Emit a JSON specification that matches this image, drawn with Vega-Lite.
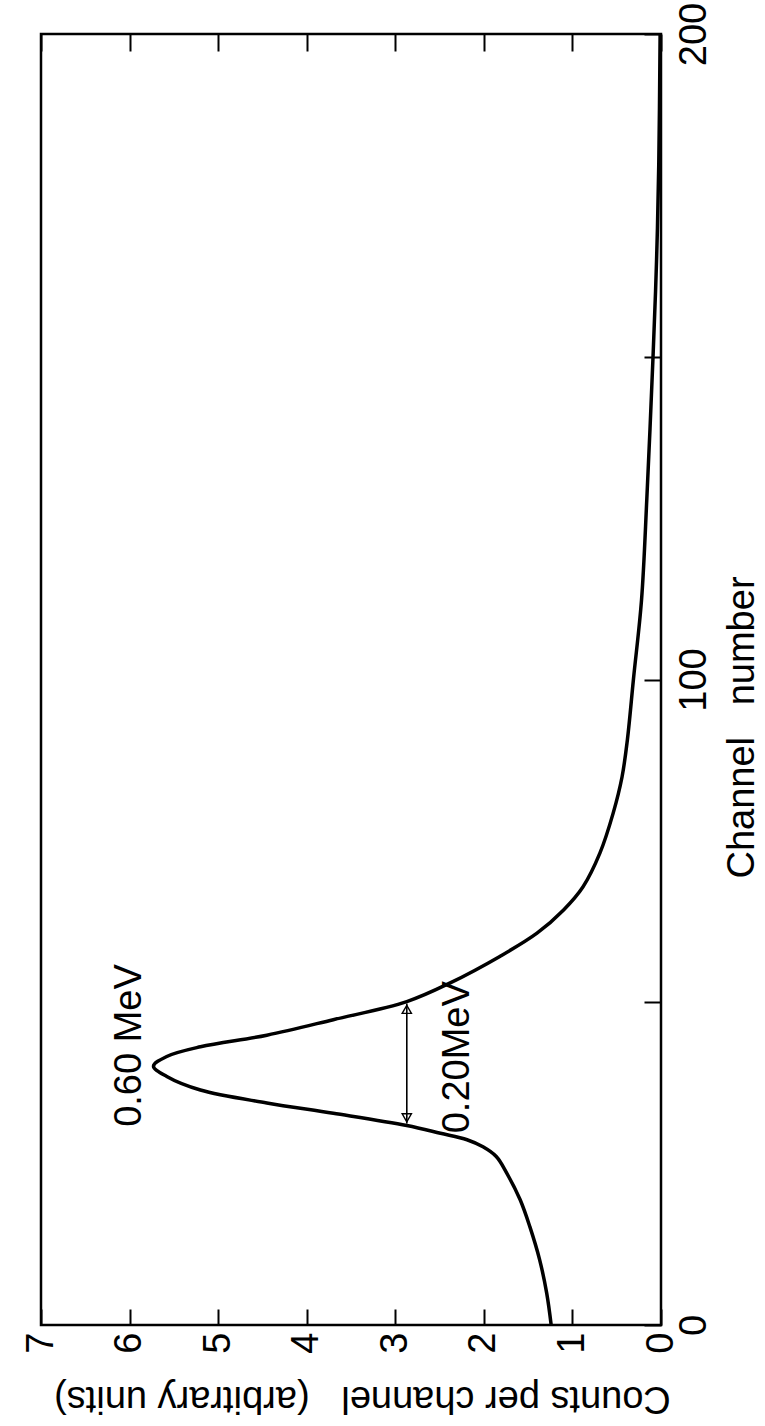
{
  "$schema": "https://vega.github.io/schema/vega-lite/v6.json",
  "width": 620,
  "height": 1291,
  "autosize": "none",
  "padding": {"left": 41, "top": 34, "right": 104, "bottom": 101},
  "background": "white",
  "config": {
    "view": {"stroke": "black", "strokeWidth": 2.5},
    "font": "Liberation Sans",
    "axis": {"grid": false, "domain": false, "tickColor": "black", "tickWidth": 2, "labelColor": "black", "titleColor": "black", "titleFontWeight": "normal", "labelFont": "Liberation Sans", "titleFont": "Liberation Sans"}
  },
  "datasets": {
    "curve": [
      {"channel": 0, "counts": 1.24},
      {"channel": 4.9, "counts": 1.29},
      {"channel": 10.1, "counts": 1.37},
      {"channel": 15.2, "counts": 1.48},
      {"channel": 19.4, "counts": 1.59},
      {"channel": 23.5, "counts": 1.74},
      {"channel": 26.1, "counts": 1.86},
      {"channel": 27.6, "counts": 2.01},
      {"channel": 28.7, "counts": 2.19},
      {"channel": 29.7, "counts": 2.49},
      {"channel": 30.9, "counts": 2.87},
      {"channel": 32.8, "counts": 3.70},
      {"channel": 34.4, "counts": 4.45},
      {"channel": 36.4, "counts": 5.20},
      {"channel": 38.5, "counts": 5.58},
      {"channel": 40.1, "counts": 5.73},
      {"channel": 41.6, "counts": 5.58},
      {"channel": 43.1, "counts": 5.20},
      {"channel": 44.9, "counts": 4.45},
      {"channel": 47.3, "counts": 3.70},
      {"channel": 50.1, "counts": 2.87},
      {"channel": 53.0, "counts": 2.38},
      {"channel": 57.1, "counts": 1.82},
      {"channel": 60.7, "counts": 1.40},
      {"channel": 64.3, "counts": 1.10},
      {"channel": 67.9, "counts": 0.88},
      {"channel": 73.1, "counts": 0.69},
      {"channel": 79.3, "counts": 0.54},
      {"channel": 84.9, "counts": 0.44},
      {"channel": 90.6, "counts": 0.38},
      {"channel": 100.2, "counts": 0.31},
      {"channel": 112.3, "counts": 0.22},
      {"channel": 128, "counts": 0.16},
      {"channel": 150, "counts": 0.09},
      {"channel": 165, "counts": 0.05},
      {"channel": 180, "counts": 0.025},
      {"channel": 200, "counts": 0.01}
    ],
    "arrow": [
      {"from": 31.2, "to": 49.8, "counts": 2.87}
    ],
    "heads": [
      {"channel": 48.9, "counts": 2.87, "dir": "up"},
      {"channel": 32.1, "counts": 2.87, "dir": "down"}
    ],
    "notes": [
      {"channel": 30.7, "counts": 6.0, "text": "0.60 MeV"},
      {"channel": 29.7, "counts": 2.29, "text": "0.20MeV"}
    ]
  },
  "resolve": {"axis": {"x": "independent"}},
  "layer": [
    {
      "data": {"name": "curve"},
      "mark": {"type": "line", "interpolate": "catmull-rom", "stroke": "black", "strokeWidth": 3.5},
      "encoding": {
        "y": {
          "field": "channel", "type": "quantitative",
          "scale": {"domain": [0, 200], "nice": false, "zero": false},
          "axis": {
            "orient": "right", "values": [0, 50, 100, 150, 200],
            "labelExpr": "datum.value % 100 === 0 ? datum.label : ''",
            "tickSize": -17, "labelPadding": 31, "labelFontSize": 38,
            "labelAngle": 270, "labelAlign": "center", "labelBaseline": "top",
            "labelFlush": false, "labelOverlap": false, "labelBound": false,
            "title": "Channel\u00a0\u00a0\u00a0number", "titleFontSize": 38,
            "titleAngle": 270, "titleAlign": "center", "titleBaseline": "middle",
            "titleX": 81, "titleY": 693
          }
        },
        "x": {
          "field": "counts", "type": "quantitative",
          "scale": {"domain": [0, 7], "nice": false, "zero": false, "reverse": true},
          "axis": {
            "orient": "bottom", "values": [0, 1, 2, 3, 4, 5, 6, 7], "format": "d",
            "tickSize": -16, "labelPadding": 23, "labelFontSize": 38,
            "labelAngle": 270, "labelAlign": "right", "labelBaseline": "middle",
            "labelFlush": false, "labelOverlap": false, "labelBound": false,
            "title": "Counts per channel\u00a0\u00a0\u00a0(arbitrary units)", "titleFontSize": 38,
            "titleAngle": 180, "titleAlign": "center", "titleBaseline": "middle",
            "titleX": 321, "titleY": 72
          }
        },
        "order": {"field": "channel", "type": "quantitative"}
      }
    },
    {
      "data": {"name": "arrow"},
      "mark": {"type": "rule", "stroke": "black", "strokeWidth": 1.6},
      "encoding": {
        "y": {"field": "from", "type": "quantitative"},
        "y2": {"field": "to"},
        "x": {
          "field": "counts", "type": "quantitative",
          "axis": {
            "orient": "top", "values": [0, 1, 2, 3, 4, 5, 6, 7],
            "tickSize": -17, "labels": false, "title": null
          }
        }
      }
    },
    {
      "data": {"name": "heads"},
      "mark": {"type": "point", "filled": false, "stroke": "black", "strokeWidth": 1.4, "size": 85, "opacity": 1},
      "encoding": {
        "y": {"field": "channel", "type": "quantitative"},
        "x": {"field": "counts", "type": "quantitative", "axis": null},
        "shape": {
          "field": "dir", "type": "nominal",
          "scale": {"domain": ["up", "down"], "range": ["triangle-up", "triangle-down"]},
          "legend": null
        }
      }
    },
    {
      "data": {"name": "notes"},
      "mark": {"type": "text", "angle": 270, "align": "left", "baseline": "middle", "fontSize": 38, "font": "Liberation Sans", "color": "black"},
      "encoding": {
        "y": {"field": "channel", "type": "quantitative"},
        "x": {"field": "counts", "type": "quantitative", "axis": null},
        "text": {"field": "text"}
      }
    }
  ]
}
